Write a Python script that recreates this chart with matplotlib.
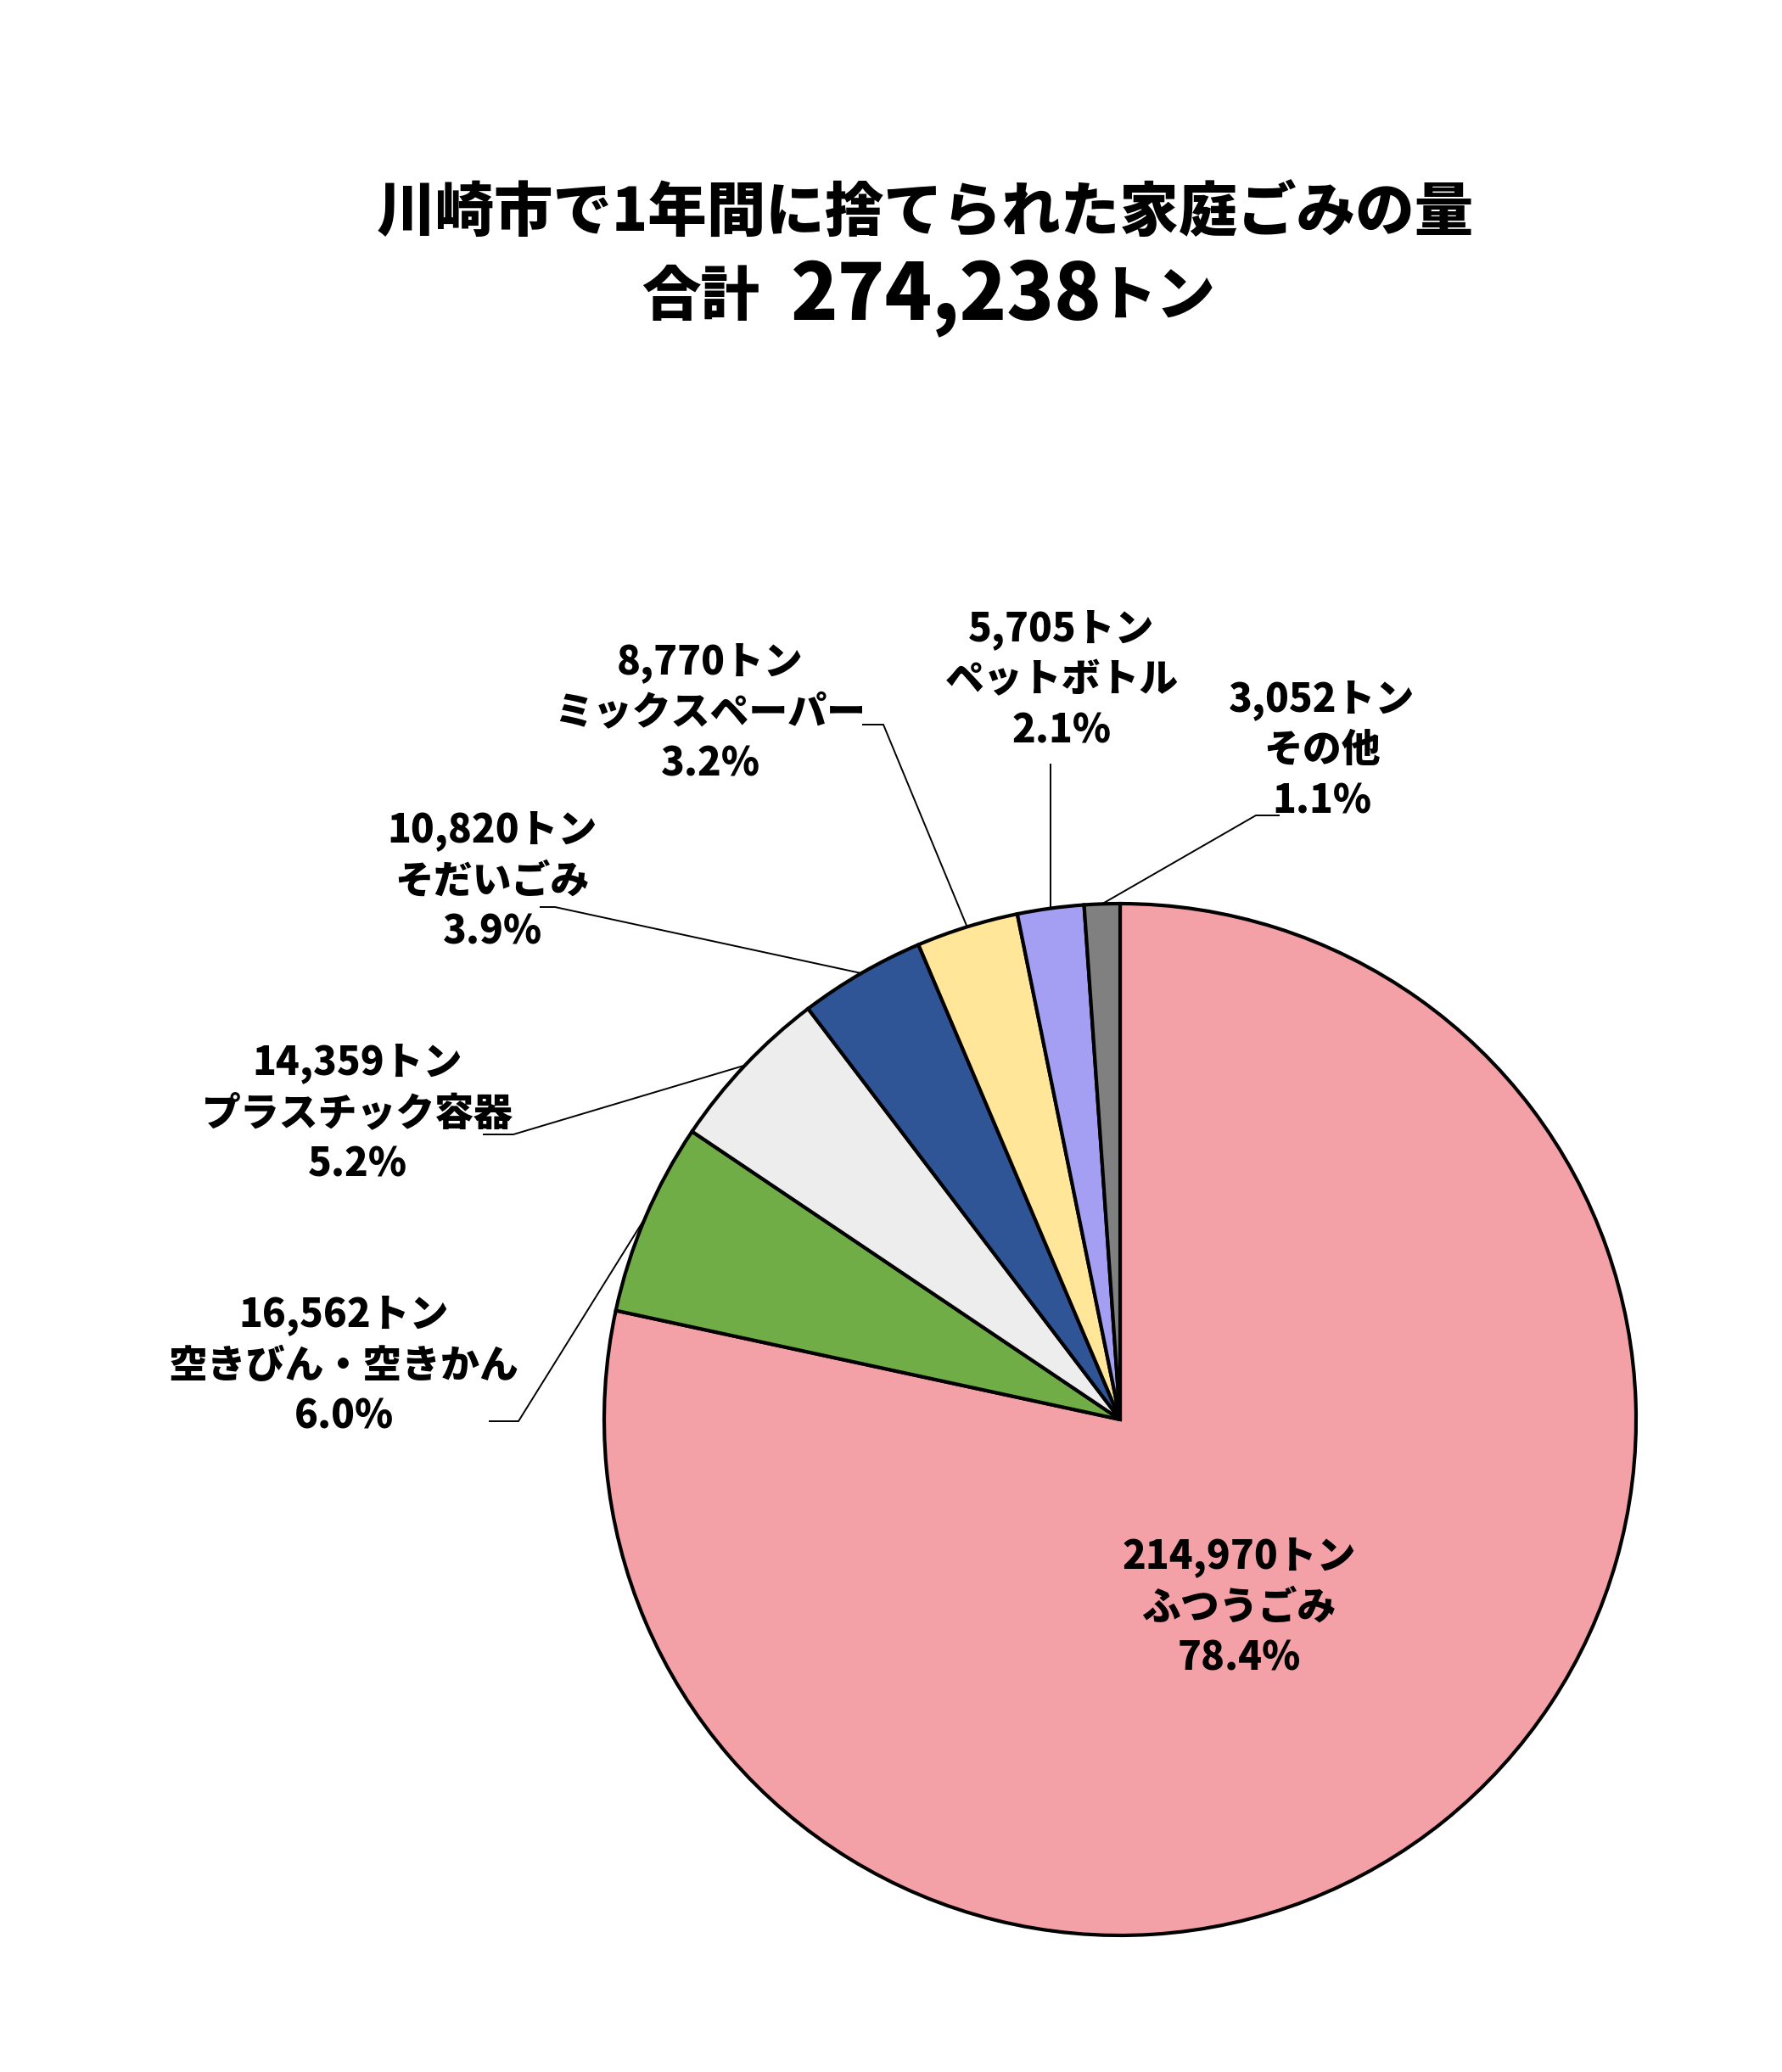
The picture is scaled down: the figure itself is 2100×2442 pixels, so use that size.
import numpy as np
import matplotlib
matplotlib.use('Agg')
import matplotlib.pyplot as plt

plt.rcParams['font.family'] = ['Noto Sans CJK JP', 'DejaVu Sans']

# data
names = ['ふつうごみ', '空きびん・空きかん', 'プラスチック容器', 'そだいごみ',
         'ミックスペーパー', 'ペットボトル', 'その他']
tons = [214970, 16562, 14359, 10820, 8770, 5705, 3052]
colors = ['#F4A0A7', '#70AD47', '#EDEDED', '#2F5597', '#FFE699', '#A59FF4', '#808080']
explode = [0, 0.02, 0, 0, 0, 0, 0.02]

W, H = 2100, 2442
fig = plt.figure(figsize=(W/100, H/100), dpi=100)
ax = fig.add_axes([0, 0, 1, 1])

total = sum(tons)
pcts = [100*t/total for t in tons]

wedges, _ = ax.pie(tons, colors=colors, startangle=90, counterclock=False,
                   explode=explode, center=(1320, H-1673), radius=608,
                   wedgeprops=dict(edgecolor='black', linewidth=3))
ax.set_xlim(0, W)
ax.set_ylim(0, H)
ax.axis('off')

def lbl(i):
    return ['{:,}トン'.format(tons[i]), names[i], '{:.1f}%'.format(pcts[i])]

fs = 33
def block(x, y, lines, gap=60):
    for k, s in enumerate(lines):
        ax.text(x, H-(y+(k-1)*gap), s, ha='center', va='center',
                fontsize=fs, fontweight='black')

# label positions (px from top) and leader elbows
lab_pos = [(1460, 1895), (405, 1610), (421, 1313), (580, 1039),
           (837, 841), (1251, 802), (1558, 885)]
elbows = [None, ((611, 1675), (576, 1675)), ((605, 1337), (569, 1337)),
          ((654, 1069), (636, 1069)), ((1041, 854), (1016, 854)),
          'v', ((1480, 961), (1508, 961))]

for i, w in enumerate(wedges):
    block(lab_pos[i][0], lab_pos[i][1], lbl(i))
    if elbows[i] is None:
        continue
    th = np.deg2rad((w.theta1 + w.theta2)/2)
    ax_, ay_ = w.center[0] + w.r*np.cos(th), w.center[1] + w.r*np.sin(th)
    if elbows[i] == 'v':
        xs, ys = [ax_, ax_], [ay_, H-900]
    else:
        (ex, ey), (fx, fy) = elbows[i]
        xs, ys = [ax_, ex, fx], [ay_, H-ey, H-fy]
    ax.plot(xs, ys, color='black', lw=1.4, solid_capstyle='butt')

# title
ax.text(1090, H-252, '川崎市で1年間に捨てられた家庭ごみの量', ha='center', va='center',
        fontsize=50, fontweight='black')
ax.text(826, H-350, '合計', ha='center', va='center', fontsize=50, fontweight='black')
ax.text(1115, H-350, '{:,}'.format(total), ha='center', va='center', fontsize=66, fontweight='black')
ax.text(1363, H-350, 'トン', ha='center', va='center', fontsize=50, fontweight='black')

fig.savefig('out.png', dpi=100, facecolor='white')
